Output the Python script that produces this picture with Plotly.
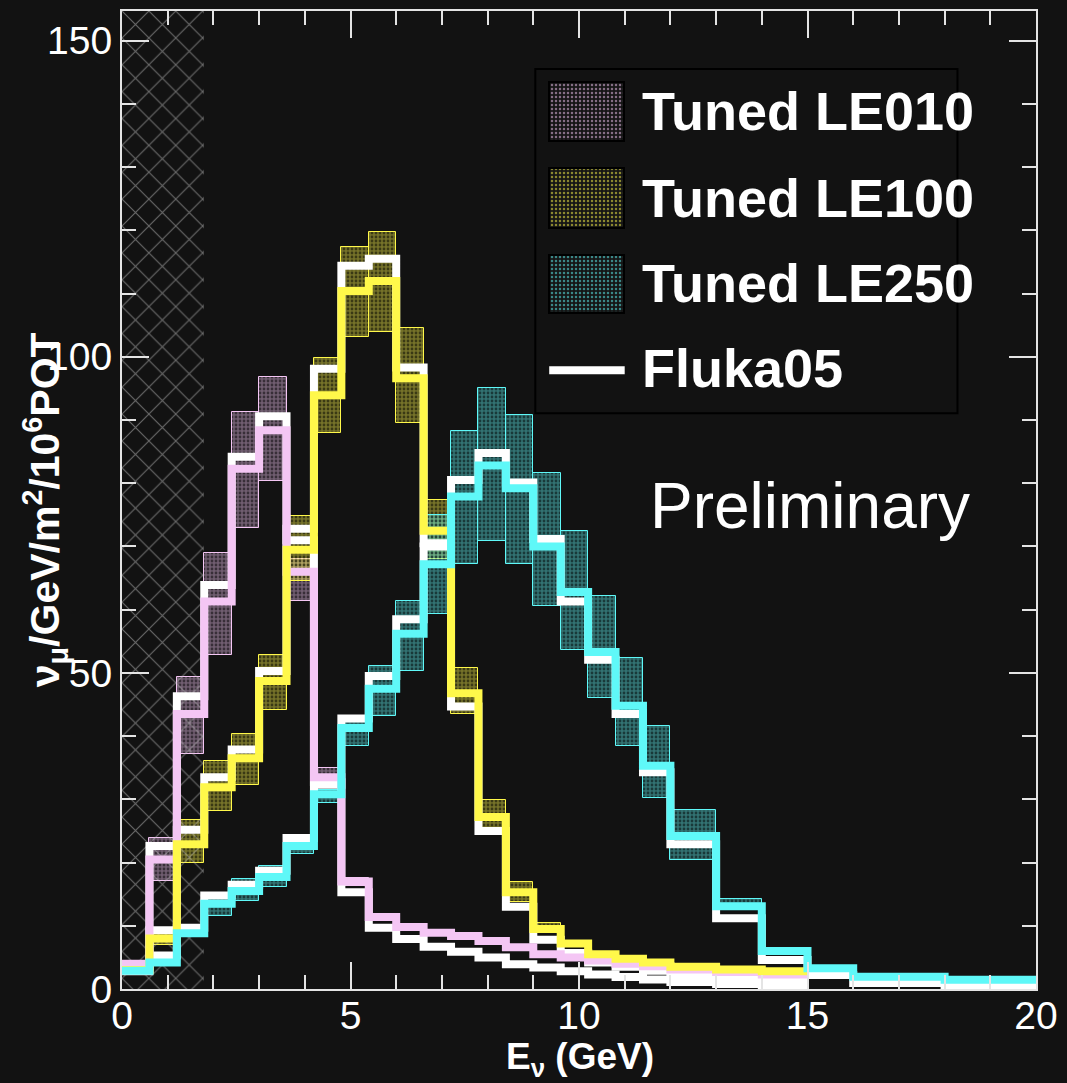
import plotly.graph_objects as go

# Bin edges (GeV): 0.6 GeV bins to 12 GeV, then 1 GeV to 16, then 2 GeV to 20
edges = [0.0, 0.6, 1.2, 1.8, 2.4, 3.0, 3.6, 4.2, 4.8, 5.4, 6.0, 6.6, 7.2, 7.8,
         8.4, 9.0, 9.6, 10.2, 10.8, 11.4, 12.0, 13.0, 14.0, 15.0, 16.0, 18.0, 20.0]

# Tuned LE010 flux, error band and Fluka05 prediction (to 15 GeV)
le010 = [4.0, 20.5, 43.5, 61.3, 82.3, 88.4, 66.0, 33.5, 17.0, 11.4, 9.8, 8.9,
         8.4, 7.6, 6.6, 5.5, 5.0, 4.5, 4.0, 3.6, 3.1, 2.7, 2.3]
le010_lo = [3.5, 17.1, 37.1, 52.9, 72.9, 80.3, 61.3, 32.0, 16.3, 10.8, 9.3, 8.5,
            8.0, 7.2, 6.3, 5.2, 4.8, 4.3, 3.8, 3.4, 2.9, 2.5, 2.1]
le010_hi = [4.5, 23.9, 49.4, 69.0, 91.3, 96.8, 68.0, 35.0, 17.6, 11.9, 10.3, 9.3,
            8.8, 8.0, 6.9, 5.8, 5.2, 4.7, 4.2, 3.8, 3.3, 2.9, 2.5]
fluka010 = [3.6, 22.6, 46.3, 63.9, 84.2, 90.6, 71.0, 32.7, 15.3, 9.7, 7.9, 6.7,
            5.9, 5.0, 3.9, 3.4, 2.8, 2.3, 1.9, 1.5, 1.1, 0.8, 0.5]

# Tuned LE100
le100 = [3.0, 8.0, 22.9, 31.9, 36.5, 48.7, 69.5, 93.9, 110.4, 112.0, 96.6, 72.5,
         46.8, 27.2, 15.3, 9.5, 7.2, 5.5, 4.8, 4.2, 3.5, 3.1, 2.8]
le100_lo = [2.7, 7.0, 20.0, 28.1, 32.3, 44.2, 64.5, 88.0, 103.2, 104.0, 89.6, 68.0,
            43.5, 24.8, 13.8, 8.9, 6.8, 5.2, 4.5, 3.9, 3.3, 2.9, 2.6]
le100_hi = [3.3, 9.5, 26.8, 36.1, 40.3, 52.9, 74.8, 99.8, 117.3, 119.8, 104.5, 77.4,
            50.8, 29.9, 16.9, 10.4, 7.6, 5.9, 5.1, 4.5, 3.7, 3.3, 3.0]
fluka100 = [2.8, 9.3, 25.2, 33.5, 37.9, 50.3, 72.8, 98.1, 114.4, 115.5, 98.3, 70.5,
            44.7, 25.0, 13.0, 7.8, 5.7, 4.2, 3.5, 2.9, 2.2, 1.9, 1.7]

# Tuned LE250 (full range to 20 GeV)
le250 = [2.9, 4.2, 8.8, 13.5, 15.5, 17.7, 22.6, 30.8, 41.3, 47.5, 56.2, 67.2,
         77.9, 82.8, 79.2, 70.0, 62.8, 53.3, 44.8, 35.3, 24.2, 13.1, 6.0, 3.3, 1.95, 1.45]
le250_lo = [2.6, 3.8, 8.2, 11.6, 13.9, 16.1, 21.3, 29.5, 38.5, 43.2, 50.3, 59.3,
            67.3, 70.8, 67.3, 60.6, 53.7, 46.1, 38.4, 30.2, 20.4, 12.8, 5.8, 3.2, 1.9, 1.4]
le250_hi = [3.2, 4.6, 9.5, 15.2, 17.4, 19.4, 24.2, 31.5, 43.2, 51.1, 61.3, 75.0,
            88.3, 95.1, 90.8, 81.6, 72.4, 62.2, 52.4, 41.6, 28.3, 14.3, 6.4, 3.5, 2.05, 1.55]
fluka250 = [3.1, 5.3, 9.7, 14.8, 16.5, 18.7, 23.9, 32.3, 42.8, 49.5, 58.5, 70.0,
            80.5, 84.8, 80.1, 71.2, 61.3, 52.1, 43.5, 34.3, 22.9, 11.2, 4.6, 2.2, 0.95, 0.6]

# Low-energy region shown with cross-hatching
excluded = (0.0, 1.8)

X_RANGE = [0, 20]
Y_RANGE = [0, 154.7]

BG = "#121212"
AXIS = "#e4e4e4"
FONT = "Liberation Sans"
PINK = (244, 198, 244)
YELLOW = (255, 248, 74)
CYAN = (95, 248, 248)


def rgb(c, a=1.0):
    return f"rgba({c[0]},{c[1]},{c[2]},{a})"


def step_trace(vals, color, width=8):
    n = len(vals)
    return go.Scatter(x=edges[:n + 1], y=list(vals) + [vals[-1]], mode="lines",
                      line=dict(color=color, width=width, shape="hv"),
                      showlegend=False, hoverinfo="skip")


def band_trace(lo, hi, c):
    n = len(lo)
    centers = [(edges[i] + edges[i + 1]) / 2 for i in range(n)]
    widths = [edges[i + 1] - edges[i] for i in range(n)]
    return go.Bar(x=centers, y=[h - l for l, h in zip(lo, hi)], base=lo, width=widths,
                  marker=dict(color=rgb(c, 0.42), line=dict(color=rgb(c), width=1),
                              pattern=dict(shape=".", fgcolor="#000000", bgcolor=rgb(c, 0.42),
                                           size=4, solidity=0.38)),
                  showlegend=False, hoverinfo="skip")


fig = go.Figure()

# Fluka05 predictions underneath
for f in (fluka010, fluka100, fluka250):
    fig.add_trace(step_trace(f, "#ffffff"))
# central values of the tuned fluxes
fig.add_trace(step_trace(le010, rgb(PINK)))
fig.add_trace(step_trace(le100, rgb(YELLOW)))
fig.add_trace(step_trace(le250, rgb(CYAN)))
# error bands
fig.add_trace(band_trace(le010_lo, le010_hi, PINK))
fig.add_trace(band_trace(le100_lo, le100_hi, YELLOW))
fig.add_trace(band_trace(le250_lo, le250_hi, CYAN))

# cross-hatched low-energy region
fig.add_trace(go.Bar(x=[(excluded[0] + excluded[1]) / 2], width=[excluded[1] - excluded[0]],
                     y=[Y_RANGE[1]], base=[0],
                     marker=dict(color="rgba(0,0,0,0)", line=dict(width=0),
                                 pattern=dict(shape="x", fgcolor="#c4c4c4", bgcolor="rgba(0,0,0,0)",
                                              size=19, solidity=0.11)),
                     showlegend=False, hoverinfo="skip"))

# legend swatches (paper-fraction overlay axes)
legend_items = [("Tuned LE010", PINK, 0.8673, 0.9276, 0.8980),
                ("Tuned LE100", YELLOW, 0.7786, 0.8398, 0.8092),
                ("Tuned LE250", CYAN, 0.6908, 0.7510, 0.7214)]
sw_x0, sw_x1 = 0.4674, 0.5489
for name, c, y0, y1, yt in legend_items:
    fig.add_trace(go.Bar(x=[(sw_x0 + sw_x1) / 2], width=[sw_x1 - sw_x0], base=[y0], y=[y1 - y0],
                         xaxis="x2", yaxis="y2",
                         marker=dict(color="#151515", line=dict(color="#000000", width=2),
                                     pattern=dict(shape=".", fgcolor=rgb(c), bgcolor="#151515",
                                                  size=4, solidity=0.3)),
                         showlegend=False, hoverinfo="skip"))

annotations = []
for name, c, y0, y1, yt in legend_items:
    annotations.append(dict(x=0.5663, y=yt, xref="paper", yref="paper", text=name,
                            showarrow=False, xanchor="left", yanchor="middle",
                            font=dict(family=FONT, size=54, color="white", weight="bold")))
annotations.append(dict(x=0.5663, y=0.6347, xref="paper", yref="paper", text="Fluka05",
                        showarrow=False, xanchor="left", yanchor="middle",
                        font=dict(family=FONT, size=54, color="white", weight="bold")))
annotations.append(dict(x=0.575, y=0.4939, xref="paper", yref="paper", text="Preliminary",
                        showarrow=False, xanchor="left", yanchor="middle",
                        font=dict(family=FONT, size=64, color="white")))
annotations.append(dict(x=-0.0848, y=0.490, xref="paper", yref="paper", textangle=-90,
                        text="ν<sub>μ</sub>/GeV/m<sup>2</sup>/10<sup>6</sup>POT",
                        showarrow=False, xanchor="center", yanchor="middle",
                        font=dict(family=FONT, size=41, color="white", weight="bold")))
annotations.append(dict(x=0.501, y=-0.0714, xref="paper", yref="paper",
                        text="E<sub>ν</sub> (GeV)",
                        showarrow=False, xanchor="center", yanchor="middle",
                        font=dict(family=FONT, size=37, color="white", weight="bold")))

shapes = [
    dict(type="rect", xref="paper", yref="paper", x0=0.4522, x1=0.9141, y0=0.5888, y1=0.9408,
         line=dict(color="#000000", width=2), fillcolor=BG, layer="below"),
    dict(type="line", xref="paper", yref="paper", x0=sw_x0, x1=0.5500, y0=0.6327, y1=0.6327,
         line=dict(color="#ffffff", width=8), layer="above"),
]

axis_common = dict(showline=True, linecolor=AXIS, linewidth=2, mirror="allticks",
                   ticks="inside", ticklen=27, tickwidth=2, tickcolor=AXIS,
                   showgrid=False, zeroline=False,
                   tickfont=dict(family=FONT, size=39, color="white"))

fig.update_layout(
    width=1067, height=1083,
    margin=dict(l=122, r=25, t=9, b=94),
    paper_bgcolor=BG, plot_bgcolor=BG,
    barmode="overlay", bargap=0,
    xaxis=dict(range=X_RANGE, tick0=0, dtick=5, ticklabelstandoff=-9,
               minor=dict(ticks="inside", ticklen=14, dtick=1, tickwidth=2, tickcolor=AXIS),
               **axis_common),
    yaxis=dict(range=Y_RANGE, tick0=0, dtick=50,
               minor=dict(ticks="inside", ticklen=14, dtick=10, tickwidth=2, tickcolor=AXIS),
               **axis_common),
    xaxis2=dict(overlaying="x", range=[0, 1], visible=False, fixedrange=True),
    yaxis2=dict(overlaying="y", range=[0, 1], visible=False, fixedrange=True),
    annotations=annotations,
    shapes=shapes,
    showlegend=False,
)

fig.write_html("out.html")
